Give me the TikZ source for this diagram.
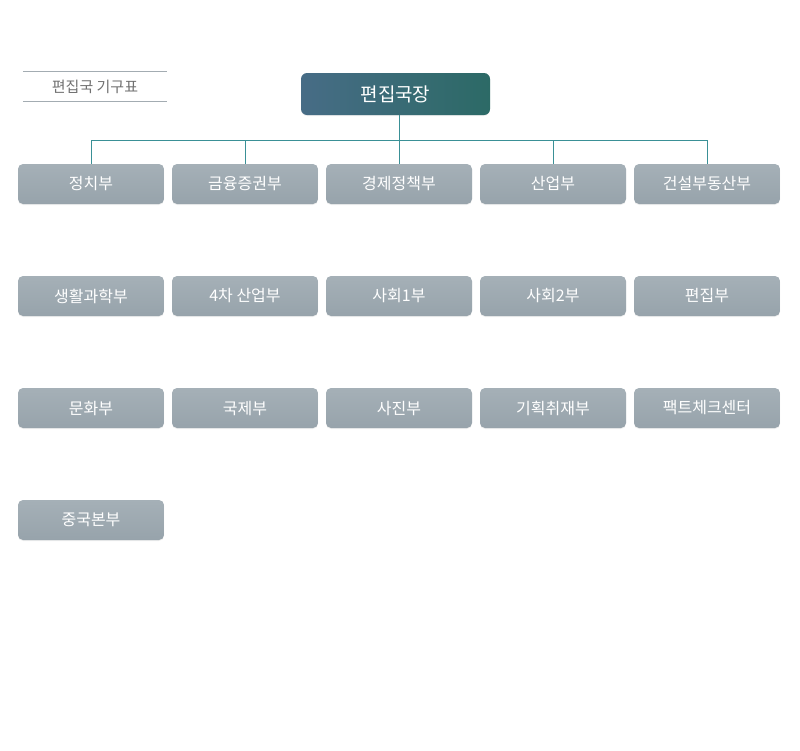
\documentclass[tikz,border=0pt]{standalone}
\usepackage{fontspec}
\newfontfamily\kr{Noto Sans CJK KR}
\usetikzlibrary{positioning, calc, shadows}
\definecolor{linkteal}{HTML}{3A9096}
\definecolor{depttop}{HTML}{A5B0B7}
\definecolor{deptbot}{HTML}{97A3AB}
\definecolor{chiefleft}{HTML}{476C86}
\definecolor{chiefright}{HTML}{2C6A66}
\definecolor{titlegray}{HTML}{707070}
\definecolor{rulegray}{HTML}{A3ACB2}

\begin{document}
\begin{tikzpicture}[x=1pt, y=-1pt,
    dept/.style={rounded corners=5pt, minimum width=146pt, minimum height=40pt,
      top color=depttop, bottom color=deptbot, text=white, inner sep=0pt,
      font=\kr\fontsize{16}{19}\selectfont,
      drop shadow={opacity=0.12, shadow xshift=0pt, shadow yshift=-1pt}},
    chief/.style={rounded corners=6pt, minimum width=189pt, minimum height=42pt,
      left color=chiefleft, right color=chiefright, text=white, inner sep=0pt,
      font=\kr\fontsize{19}{23}\selectfont,
      drop shadow={opacity=0.12, shadow xshift=0pt, shadow yshift=-1pt}},
    link/.style={linkteal, line width=1pt},
    heading/.style={minimum width=144pt, minimum height=29pt, inner sep=0pt,
      text=titlegray, font=\kr\fontsize{15}{18}\selectfont}]
    % Page frame
    \useasboundingbox (0,0) rectangle (800,750);

    % Title with rules
    \node[heading] (title) at (95,86.5) {편집국 기구표};
    \draw[rulegray, line width=0.8pt] (title.north west) -- (title.north east);
    \draw[rulegray, line width=0.8pt] (title.south west) -- (title.south east);

    % Head of bureau
    \node[chief] (chief) at (395.5,94) {편집국장};

    % Departments, five per row
    \foreach \lbl [count=\i from 0] in {정치부,금융증권부,경제정책부,산업부,건설부동산부,
        생활과학부,4차 산업부,사회1부,사회2부,편집부,
        문화부,국제부,사진부,기획취재부,팩트체크센터,
        중국본부} {
      \pgfmathtruncatemacro\col{mod(\i,5)}
      \pgfmathtruncatemacro\row{div(\i,5)}
      \node[dept] (d\i) at ({91+154*\col}, {184+112*\row}) {\lbl};
    }

    % Connectors
    \coordinate (bus) at (0,140);
    \draw[link] (d2.north |- chief.south) -- (d2.north);
    \draw[link] (d0.north |- bus) -- (d4.north |- bus);
    \foreach \k in {0,1,3,4} {
      \draw[link] (d\k.north |- bus) -- (d\k.north);
    }
  \end{tikzpicture}
\end{document}
